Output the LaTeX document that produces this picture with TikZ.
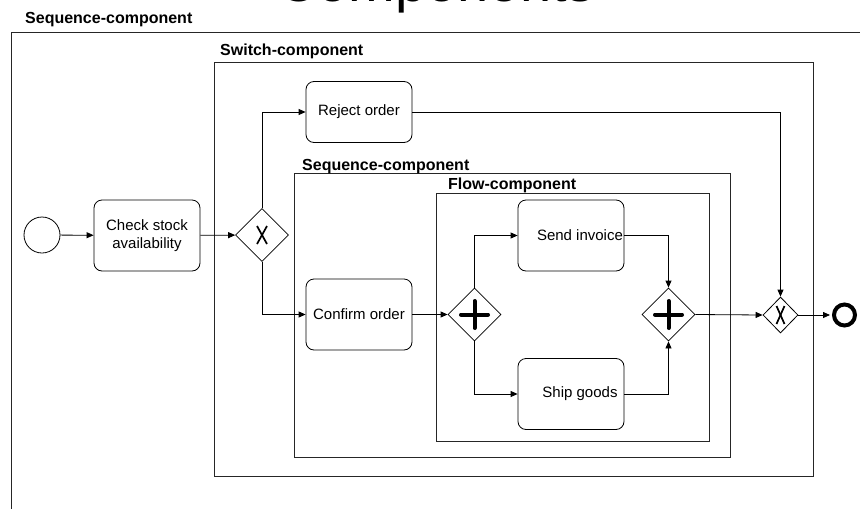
\documentclass[tikz,border=0pt]{standalone}
\usepackage{fontspec}
\setmainfont{Liberation Sans}
\usetikzlibrary{shapes.geometric,arrows.meta}
\begin{document}
\begin{tikzpicture}[x=1pt,y=-1pt,
  container/.style={draw=black!85, line width=1pt},
  clabel/.style={anchor=base west, font=\fontsize{16}{19}\selectfont\bfseries, inner sep=0},
  task/.style={draw, rounded corners=8pt, minimum width=106pt, minimum height=71pt, inner sep=0, align=center, font=\fontsize{15}{17.5}\selectfont, line width=0.8pt},
  tasktext/.style={inner sep=0, font=\fontsize{15}{17.5}\selectfont},
  gw/.style={draw, diamond, shape aspect=1, minimum width=53pt, minimum height=53pt, inner sep=0, line width=0.8pt},
  flowline/.style={draw, line width=0.8pt, -{Triangle[length=7pt,width=6pt]}},
  xmark/.style={line width=1.7pt},
  plusmark/.style={line width=4pt, line cap=round}
]
\useasboundingbox (0,0) rectangle (860,509);
\clip (0,0) rectangle (860,509);

% title (cut off at the top)
\node[anchor=base, inner sep=0, font=\fontsize{56}{60}\selectfont] (title) at (436,1) {Components};

% containers
\draw[container] (11,520) -- (11,32) -- (870,32);
\node[clabel] (lseq) at (25,23) {Sequence-component};
\draw[container] (214,62) rectangle (813,476);
\node[clabel] (lsw) at (220,55) {Switch-component};
\draw[container] (294,173) rectangle (730,457);
\node[clabel] (lseqb) at (302,170.5) {Sequence-component};
\draw[container] (436,193) rectangle (709,441);
\node[clabel] (lflow) at (448,189.5) {Flow-component};

% nodes
\node[circle, draw, minimum size=36pt, inner sep=0, line width=0.8pt] (start) at (42,235) {};
\node[task] (check) at (147,235.5) {Check stock\\availability};
\node[gw] (x1) at (262,235) {};
\draw[xmark] ([shift={(-5,-9)}]x1.center) -- ([shift={(5,9)}]x1.center);
\draw[xmark] ([shift={(5,-9)}]x1.center) -- ([shift={(-5,9)}]x1.center);

\node[task, minimum height=61pt] (reject) at (359,112) {Reject order};
\node[task] (confirm) at (359,314.5) {Confirm order};

\node[gw] (p1) at (474.5,314.5) {};
\draw[plusmark] ([xshift=-13.5pt]p1.center) -- ([xshift=13.5pt]p1.center);
\draw[plusmark] ([yshift=-13.5pt]p1.center) -- ([yshift=13.5pt]p1.center);

\node[task] (si) at (571,235.5) {};
\node[tasktext] (sit) at (580,235.5) {Send invoice};
\node[task] (sg) at (571,394) {};
\node[tasktext] (sgt) at (580,394) {Ship goods};

\node[gw] (p2) at (668.5,314.5) {};
\draw[plusmark] ([xshift=-13.5pt]p2.center) -- ([xshift=13.5pt]p2.center);
\draw[plusmark] ([yshift=-13.5pt]p2.center) -- ([yshift=13.5pt]p2.center);

\node[gw, minimum width=35pt, minimum height=36pt] (x2) at (780.5,315) {};
\draw[xmark] ([shift={(-4,-9)}]x2.center) -- ([shift={(4,9)}]x2.center);
\draw[xmark] ([shift={(4,-9)}]x2.center) -- ([shift={(-4,9)}]x2.center);

\node[circle, draw, minimum size=21pt, inner sep=0, line width=4pt] (end) at (844.5,315) {};

% connectors
\path[flowline] (start) -- (check);
\path[flowline] (check) -- (x1);
\path[flowline] (x1.north) |- (reject.west);
\path[flowline] (x1.south) |- (confirm.west);
\path[flowline] (confirm) -- (p1);
\path[flowline] (p1.north) |- (si.west);
\path[flowline] (p1.south) |- (sg.west);
\path[flowline] (si.east) -| (p2.north);
\path[flowline] (sg.east) -| (p2.south);
\path[flowline] (p2.east) -- (x2.west);
\path[flowline] (reject.east) -| (x2.north);
\path[flowline, shorten >=2pt] (x2.east) -- (end.west);
\end{tikzpicture}
\end{document}
